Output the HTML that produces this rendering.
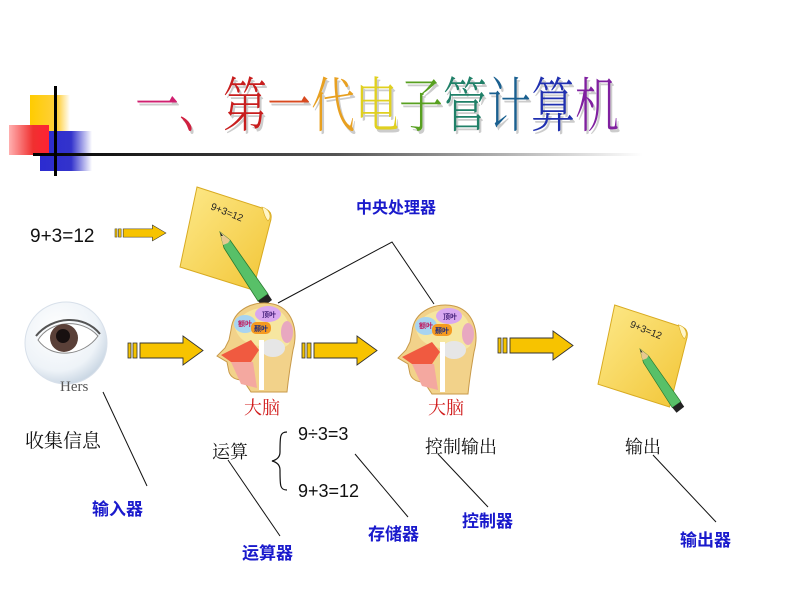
<!DOCTYPE html>
<html><head><meta charset="utf-8"><style>
body{margin:0;background:#fff;}
#c{position:relative;width:794px;height:596px;overflow:hidden;background:#fff;font-family:"Liberation Sans","Noto Sans CJK SC",sans-serif;}
.t{position:absolute;white-space:nowrap;line-height:1;}
.blue{color:#1a1acc;font-weight:bold;font-size:17px;}
.blk{color:#111;font-size:18px;}
.red{color:#d01818;font-size:18px;}
.ser{font-family:"Liberation Serif","Noto Serif CJK SC",serif;}
</style></head><body><div id="c">
<svg width="794" height="596" style="position:absolute;left:0;top:0">
<defs>
<linearGradient id="hl" x1="0" x2="1"><stop offset="0" stop-color="#000"/><stop offset="0.5" stop-color="#555"/><stop offset="1" stop-color="#fff"/></linearGradient>
<linearGradient id="rd" x1="0" x2="1"><stop offset="0" stop-color="#ffb0b0"/><stop offset="0.6" stop-color="#f03030"/><stop offset="1" stop-color="#f23"/></linearGradient>
<linearGradient id="bl" x1="0" x2="1"><stop offset="0" stop-color="#2b2bd0"/><stop offset="0.6" stop-color="#3333cc"/><stop offset="1" stop-color="#fff"/></linearGradient>
<linearGradient id="yl" x1="0" x2="1"><stop offset="0" stop-color="#ffcc00"/><stop offset="0.7" stop-color="#ffd040"/><stop offset="1" stop-color="#fff"/></linearGradient>
<linearGradient id="pp" x1="0" y1="0" x2="1" y2="1"><stop offset="0" stop-color="#fde98a"/><stop offset="1" stop-color="#f2c535"/></linearGradient>
<radialGradient id="eye" cx="0.4" cy="0.35" r="0.7"><stop offset="0" stop-color="#fff"/><stop offset="0.7" stop-color="#eef3f8"/><stop offset="1" stop-color="#c4d2e0"/></radialGradient>
<g id="arr"><rect x="0" y="7" width="3" height="15" fill="#f5c400" stroke="#333" stroke-width="0.8"/><rect x="5" y="7" width="4" height="15" fill="#f5c400" stroke="#333" stroke-width="0.8"/><path d="M12 7H55V0L75 14.5L55 29V22H12Z" fill="#f7c300" stroke="#333" stroke-width="0.9"/></g>
<g id="head">
<path d="M20 30C22 8 45 0 62 4C80 8 88 28 82 50C80 62 78 72 76 92H40L32 80C26 80 20 78 18 72L16 62L6 56L14 48L18 40Z" fill="#f2d28a" stroke="#c89a4a"/>
<path d="M24 28C28 12 46 6 60 8C75 10 82 26 78 44C72 50 60 50 48 46C36 44 28 40 24 28Z" fill="#f6e6a0"/>
<ellipse cx="34" cy="24" rx="11" ry="9" fill="#a8d4f0"/>
<text x="34" y="26" font-size="7" fill="#c0185c" text-anchor="middle" font-family="Noto Sans CJK SC" font-weight="bold">额叶</text>
<ellipse cx="57" cy="14" rx="13" ry="8" fill="#d9a8f0"/>
<text x="58" y="17" font-size="7" fill="#44207a" text-anchor="middle" font-family="Noto Sans CJK SC" font-weight="bold">顶叶</text>
<rect x="40" y="22" width="20" height="12" rx="5" fill="#f59a20"/>
<text x="50" y="31" font-size="7" fill="#1a2a80" text-anchor="middle" font-family="Noto Sans CJK SC" font-weight="bold">颞叶</text>
<ellipse cx="76" cy="32" rx="6" ry="11" fill="#e8a8c0"/>
<ellipse cx="62" cy="48" rx="12" ry="9" fill="#e6e6e6"/>
<path d="M10 55L40 40L48 50L40 62L20 62Z" fill="#f05a40"/>
<path d="M20 62L42 62L46 88L30 84Z" fill="#f4a8a0"/>
<rect x="48" y="40" width="5" height="50" fill="#fff"/>
</g>
<g id="paper"><path d="M17 0L85 22C92 24 92 30 90 36L73 103L0 80Z" fill="url(#pp)" stroke="#d8aa20"/>
<path d="M82 20C90 22 92 30 88 34C84 30 84 25 82 20Z" fill="#fff6c8" stroke="#d8aa20" stroke-width="0.6"/></g>
<g id="pen"><path d="M0 0L10 8L48 62L38 69L4 16Z" fill="#58c068" stroke="#2a7a30" stroke-width="0.8"/><path d="M0 0L10 8L8 11L3 13Z" fill="#e8c890"/><path d="M0 0L3 4L1 4Z" fill="#222"/><path d="M38 69L48 62L52 68L43 75Z" fill="#222"/></g>
</defs>
<rect x="30" y="95" width="40" height="38" fill="url(#yl)"/>
<rect x="40" y="131" width="52" height="40" fill="url(#bl)"/>
<rect x="9" y="125" width="40" height="30" fill="url(#rd)"/>
<rect x="33" y="153" width="610" height="3" fill="url(#hl)"/>
<rect x="54" y="86" width="3" height="90" fill="#000"/>
<g transform="translate(115,225) scale(0.68,0.55)"><use href="#arr"/></g>
<use href="#arr" x="128" y="336"/>
<use href="#arr" x="302" y="336"/>
<use href="#arr" x="498" y="331"/>
<g transform="translate(180,187)"><use href="#paper"/><text x="30" y="22" font-size="10" transform="rotate(22 30 22)" fill="#222">9+3=12</text></g>
<g transform="translate(220,232)"><use href="#pen"/></g>
<g transform="translate(598,305) scale(0.98,0.99)"><use href="#paper"/><text x="32" y="22" font-size="10" transform="rotate(22 32 22)" fill="#222">9+3=12</text></g>
<g transform="translate(640,349) scale(0.85)"><use href="#pen"/></g>
<circle cx="66" cy="343" r="41" fill="url(#eye)" stroke="#d8e0ea"/>
<path d="M38 340C50 320 82 318 98 336C84 356 52 360 38 340Z" fill="#fff" stroke="#888"/>
<circle cx="64" cy="338" r="14" fill="#5a4038"/>
<circle cx="63" cy="336" r="7" fill="#181010"/>
<path d="M36 336C52 316 84 314 100 334" fill="none" stroke="#555" stroke-width="2"/>
<text x="60" y="391" font-size="15" fill="#555" font-family="Liberation Serif">Hers</text>
<use href="#head" x="211" y="300"/>
<use href="#head" x="392" y="302"/>
<g stroke="#111" stroke-width="1" fill="none">
<path d="M278 303L392 242L434 304"/>
<path d="M103 392L147 486"/>
<path d="M228 460L280 536"/>
<path d="M355 454L408 517"/>
<path d="M438 454L488 507"/>
<path d="M653 455L716 522"/>
<path d="M287 432C280 432 280 436 280 452C280 458 276 460 272 461C276 462 280 464 280 470C280 486 280 490 287 490" stroke-width="1.2"/>
</g>
</svg>
<div class="t ser" style="left:135px;top:78px;font-size:44px;transform:scaleY(1.35);transform-origin:0 0;text-shadow:2px 2px 0 #ccc;font-weight:300;">
<span style="color:#d02070">一</span><span style="color:#d02040">、</span><span style="color:#c81e1e">第</span><span style="color:#d84a20">一</span><span style="color:#e8a020">代</span><span style="color:#e0d020">电</span><span style="color:#58a020">子</span><span style="color:#208068">管</span><span style="color:#1a6090">计</span><span style="color:#2030b0">算</span><span style="color:#8020a0">机</span></div>
<div class="t blk" style="left:30px;top:227px;font-size:19px;">9+3=12</div>
<div class="t blue" style="left:356px;top:201px;font-size:16px;">中央处理器</div>
<div class="t red ser" style="left:244px;top:399px;">大脑</div>
<div class="t red ser" style="left:428px;top:399px;">大脑</div>
<div class="t blk ser" style="left:25px;top:432px;font-size:19px;">收集信息</div>
<div class="t blk ser" style="left:212px;top:443px;">运算</div>
<div class="t blk" style="left:298px;top:425px;">9÷3=3</div>
<div class="t blk" style="left:298px;top:482px;">9+3=12</div>
<div class="t blk ser" style="left:425px;top:438px;">控制输出</div>
<div class="t blk ser" style="left:625px;top:438px;">输出</div>
<div class="t blue" style="left:92px;top:501px;">输入器</div>
<div class="t blue" style="left:242px;top:545px;">运算器</div>
<div class="t blue" style="left:368px;top:526px;">存储器</div>
<div class="t blue" style="left:462px;top:513px;">控制器</div>
<div class="t blue" style="left:680px;top:532px;">输出器</div>
</div></body></html>
